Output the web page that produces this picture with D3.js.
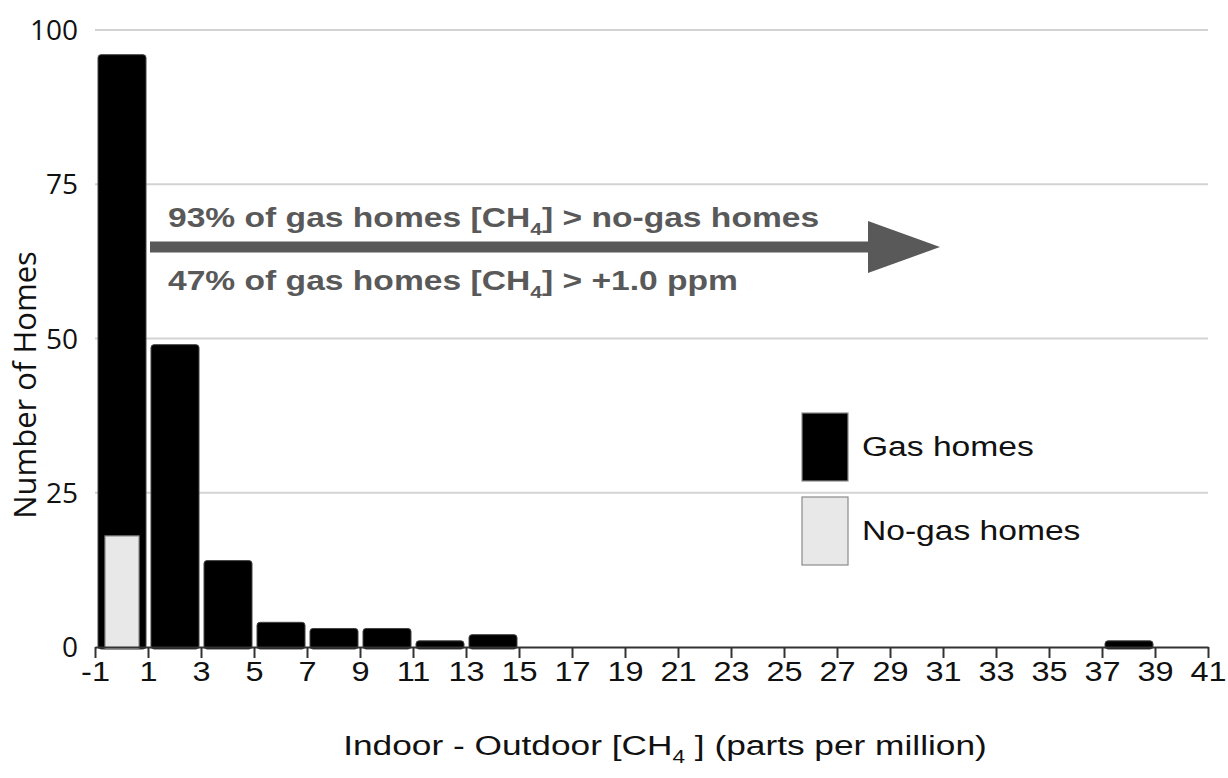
<!DOCTYPE html>
<html>
<head>
<meta charset="utf-8">
<script src="https://cdn.jsdelivr.net/npm/d3@7"></script>
<style>
  html, body { margin: 0; padding: 0; background: #fff; }
  svg { display: block; }
</style>
</head>
<body>
<svg id="chart" width="1228" height="778"></svg>
<script>
// Histogram bins (ppm, width 2) and home counts
const binStarts = [-1, 1, 3, 5, 7, 9, 11, 13, 15, 17, 19, 21, 23, 25, 27, 29, 31, 33, 35, 37, 39];
const gasHomes   = [96, 49, 14, 4, 3, 3, 1, 2, 0, 0, 0, 0, 0, 0, 0, 0, 0, 0, 0, 1, 0];
const noGasHomes = [18, 0, 0, 0, 0, 0, 0, 0, 0, 0, 0, 0, 0, 0, 0, 0, 0, 0, 0, 0, 0];
const xTicks = [-1, 1, 3, 5, 7, 9, 11, 13, 15, 17, 19, 21, 23, 25, 27, 29, 31, 33, 35, 37, 39, 41];
const yTicks = [0, 25, 50, 75, 100];
const legendItems = ["Gas homes", "No-gas homes"];

const svg = d3.select("#chart");
const x = d3.scaleLinear().domain([-1, 41]).range([95, 1208]);
const y = d3.scaleLinear().domain([0, 100]).range([647, 30]);
const binW = 2;
const sansFont = "'Liberation Sans', Arial, sans-serif";

// Gridlines
svg.append("g").selectAll("line")
  .data(yTicks.filter(d => d > 0))
  .join("line")
  .attr("x1", x(-1)).attr("x2", x(41))
  .attr("y1", d => y(d)).attr("y2", d => y(d))
  .attr("stroke", "#d3d3d3").attr("stroke-width", 2);

// Y tick labels
svg.append("g").selectAll("text")
  .data(yTicks)
  .join("text")
  .attr("x", 78).attr("y", d => y(d))
  .attr("dy", "0.36em")
  .attr("text-anchor", "end")
  .attr("font-family", "'Open Sans', sans-serif")
  .attr("font-size", 28)
  .attr("fill", "#111")
  .text(d => d);

// Gas homes bars
const bars = binStarts.map((s, i) => ({ s, gas: gasHomes[i], noGas: noGasHomes[i] }));
svg.append("g").selectAll("rect")
  .data(bars.filter(d => d.gas > 0))
  .join("rect")
  .attr("x", d => x(d.s) + 3)
  .attr("width", d => x(d.s + binW) - x(d.s) - 5)
  .attr("y", d => y(d.gas))
  .attr("height", d => y(0) - y(d.gas) + 2)
  .attr("rx", 3)
  .attr("fill", "#000")
  .attr("stroke", "#444").attr("stroke-width", 1);

// No-gas homes bars (narrower, drawn over the gas bars)
svg.append("g").selectAll("rect")
  .data(bars.filter(d => d.noGas > 0))
  .join("rect")
  .attr("x", d => x(d.s) + 10)
  .attr("width", d => x(d.s + binW) - x(d.s) - 19)
  .attr("y", d => y(d.noGas))
  .attr("height", d => y(0) - y(d.noGas) + 2)
  .attr("fill", "#e8e8e8")
  .attr("stroke", "#8a8a8a").attr("stroke-width", 1.2);

// X axis
const xAxis = d3.axisBottom(x).tickValues(xTicks).tickSize(11).tickSizeOuter(0)
  .tickFormat(d => String(d));
const gx = svg.append("g").attr("transform", `translate(0,${y(0)})`).call(xAxis);
gx.select(".domain").attr("stroke", "#333").attr("stroke-width", 2);
gx.selectAll(".tick line").attr("stroke", "#333").attr("stroke-width", 2);
gx.selectAll(".tick text")
  .attr("y", 0).attr("dy", 0)
  .attr("transform", "translate(0,34) scale(1.16,1)")
  .attr("font-family", sansFont)
  .attr("font-size", 28)
  .attr("fill", "#111");

// Y axis title
svg.append("text")
  .attr("transform", "translate(36,385) rotate(-90)")
  .attr("text-anchor", "middle")
  .attr("font-family", "'Open Sans', sans-serif")
  .attr("font-size", 31)
  .attr("fill", "#111")
  .text("Number of Homes");

// X axis title with subscript
const xt = svg.append("text")
  .attr("transform", "translate(665,755) scale(1.26,1)")
  .attr("text-anchor", "middle")
  .attr("font-family", sansFont)
  .attr("font-size", 28)
  .attr("fill", "#111");
xt.append("tspan").text("Indoor - Outdoor [CH");
xt.append("tspan").attr("font-size", 18).attr("dy", 8).text("4");
xt.append("tspan").attr("dy", -8).text(" ] (parts per million)");

// Arrow annotation
const arrowY = 247;
svg.append("rect")
  .attr("x", 150).attr("y", arrowY - 5.5)
  .attr("width", 720).attr("height", 11)
  .attr("fill", "#595959");
svg.append("path")
  .attr("d", `M868,${arrowY - 26} L940,${arrowY} L868,${arrowY + 26} Z`)
  .attr("fill", "#595959");

const notes = [
  { y: 227, pre: "93% of gas homes [CH", post: "] > no-gas homes" },
  { y: 290, pre: "47% of gas homes [CH", post: "] > +1.0 ppm" }
];
notes.forEach(n => {
  const t = svg.append("text")
    .attr("transform", `translate(168,${n.y}) scale(1.245,1)`)
    .attr("font-family", sansFont)
    .attr("font-weight", "bold")
    .attr("font-size", 27)
    .attr("fill", "#595959");
  t.append("tspan").text(n.pre);
  t.append("tspan").attr("font-size", 17).attr("dy", 8).text("4");
  t.append("tspan").attr("dy", -8).text(n.post);
});

// Legend
const legend = svg.append("g");
legendItems.forEach((name, i) => {
  const ly = 413 + i * 84;
  legend.append("rect")
    .attr("x", 802).attr("y", ly)
    .attr("width", 46).attr("height", 68)
    .attr("fill", i === 0 ? "#000" : "#e8e8e8")
    .attr("stroke", "#8a8a8a").attr("stroke-width", 1.2);
  legend.append("text")
    .attr("transform", `translate(862,${ly + 43}) scale(1.2,1)`)
    .attr("font-family", sansFont)
    .attr("font-size", 28)
    .attr("fill", "#111")
    .text(name);
});
</script>
</body>
</html>
